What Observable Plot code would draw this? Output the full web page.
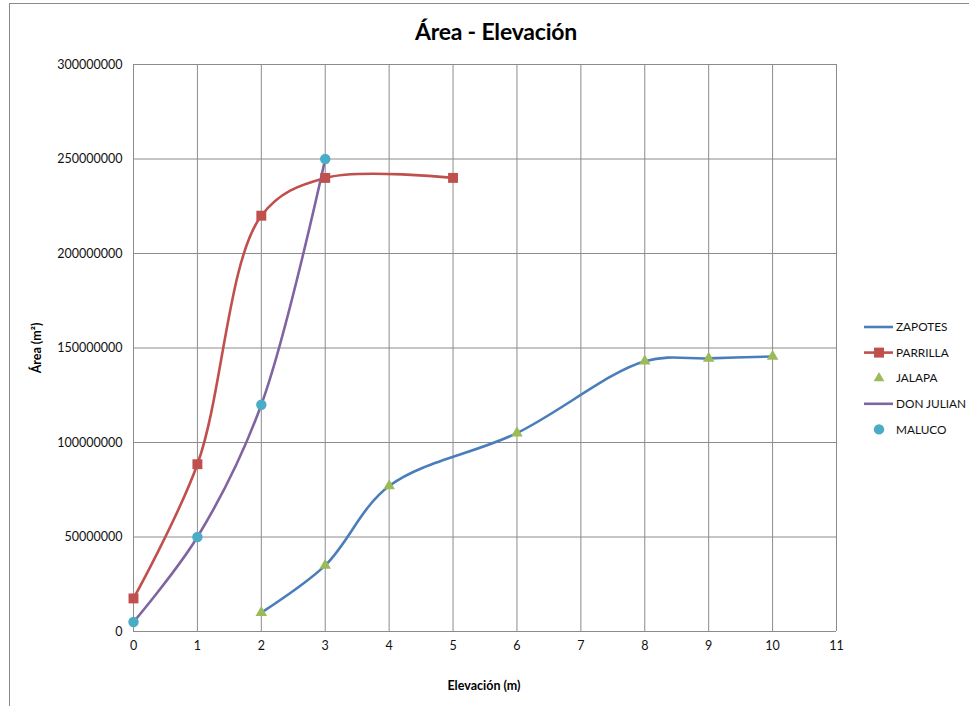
<!DOCTYPE html>
<html>
<head>
<meta charset="utf-8">
<script src="https://cdn.jsdelivr.net/npm/d3@7"></script>
<script src="https://cdn.jsdelivr.net/npm/@observablehq/plot@0.6"></script>
<style>
  html, body { margin: 0; padding: 0; background: #fff; }
  #wrap { position: relative; width: 969px; height: 706px; overflow: hidden; font-family: Lato, "Open Sans", sans-serif; }
  #frame { position: absolute; left: 9px; top: 3px; width: 970px; height: 720px; border: 1px solid #8a8a8a; box-sizing: border-box; }
  #chart { position: absolute; left: 0; top: 0; }
  #title { position: absolute; left: 0; width: 992px; top: 17px; text-align: center; font-weight: bold; font-size: 23px; color: #000; letter-spacing: -0.2px; }
  #ylabel { position: absolute; left: 36px; top: 348px; transform: translate(-50%, -50%) rotate(-90deg); font-weight: bold; font-size: 12.5px; white-space: nowrap; }
  #xlabel { position: absolute; left: 484px; top: 685px; transform: translate(-50%, -50%); font-weight: bold; font-size: 12.5px; white-space: nowrap; }
  #legend { position: absolute; left: 860px; top: 312px; }
</style>
</head>
<body>
<div id="wrap">
  <div id="frame"></div>
  <div id="chart"></div>
  <div id="title">Área - Elevación</div>
  <div id="ylabel">Área (m²)</div>
  <div id="xlabel">Elevación (m)</div>
  <svg id="legend" width="109" height="130"></svg>
</div>
<script>
// ---- Data ----
const seriesNames = ["ZAPOTES", "PARRILLA", "JALAPA", "DON JULIAN", "MALUCO"];
const zapotesX = [2, 3, 4, 6, 8, 9, 10];
const zapotesY = [10e6, 35e6, 77e6, 105e6, 143e6, 144.5e6, 145.5e6];
const parrillaX = [0, 1, 2, 3, 5];
const parrillaY = [17.5e6, 88.5e6, 220e6, 240e6, 240e6];
const jalapaX = [2, 3, 4, 6, 8, 9, 10];
const jalapaY = [10e6, 35e6, 77e6, 105e6, 143e6, 144.5e6, 145.5e6];
const donJulianX = [0, 1, 2, 3];
const donJulianY = [5e6, 50e6, 120e6, 250e6];
const malucoX = [0, 1, 2, 3];
const malucoY = [5e6, 50e6, 120e6, 250e6];
const xTicks = [0, 1, 2, 3, 4, 5, 6, 7, 8, 9, 10, 11];
const yTicks = [0, 50e6, 100e6, 150e6, 200e6, 250e6, 300e6];

const colors = {
  "ZAPOTES": "#4A7EBB",
  "PARRILLA": "#C0504D",
  "JALAPA": "#9BBB59",
  "DON JULIAN": "#8064A2",
  "MALUCO": "#4BACC6"
};

const rows = (xs, ys, name) => xs.map((x, i) => ({ x, y: ys[i], series: name }));
const zapotes = rows(zapotesX, zapotesY, "ZAPOTES");
const parrilla = rows(parrillaX, parrillaY, "PARRILLA");
const jalapa = rows(jalapaX, jalapaY, "JALAPA");
const donJulian = rows(donJulianX, donJulianY, "DON JULIAN");
const maluco = rows(malucoX, malucoY, "MALUCO");

const gridColor = "#8c8c8c";
const curve = "catmull-rom";

const chart = Plot.plot({
  width: 969,
  height: 706,
  marginLeft: 133,
  marginRight: 133,
  marginTop: 64,
  marginBottom: 75,
  style: { fontFamily: "Lato, 'Open Sans', sans-serif", fontSize: "12.5px", color: "#111", background: "transparent" },
  x: { domain: [0, 11], label: null },
  y: { domain: [0, 300e6], label: null },
  marks: [
    Plot.gridX(xTicks, { stroke: gridColor, strokeOpacity: 1, strokeWidth: 1 }),
    Plot.gridY(yTicks, { stroke: gridColor, strokeOpacity: 1, strokeWidth: 1 }),
    Plot.axisX({ ticks: xTicks, tickSize: 0, tickPadding: 10, label: null, fontSize: 12.5 }),
    Plot.axisY({ ticks: yTicks, tickSize: 0, tickPadding: 11, label: null, tickFormat: d3.format("d"), fontSize: 12.5 }),
    Plot.line(zapotes, { x: "x", y: "y", stroke: colors["ZAPOTES"], strokeWidth: 2.6, curve }),
    Plot.line(parrilla, { x: "x", y: "y", stroke: colors["PARRILLA"], strokeWidth: 2.6, curve }),
    Plot.line(donJulian, { x: "x", y: "y", stroke: colors["DON JULIAN"], strokeWidth: 2.6, curve }),
    Plot.dot(parrilla, { x: "x", y: "y", symbol: "square", r: 5.6, fill: colors["PARRILLA"], stroke: "none" }),
    Plot.dot(jalapa, { x: "x", y: "y", symbol: "triangle", r: 4.3, fill: colors["JALAPA"], stroke: "none" }),
    Plot.dot(maluco, { x: "x", y: "y", symbol: "circle", r: 5.2, fill: colors["MALUCO"], stroke: "none" })
  ]
});
document.getElementById("chart").appendChild(chart);

// ---- Legend ----
const legend = d3.select("#legend");
const kinds = { "ZAPOTES": "line", "PARRILLA": "lineSquare", "JALAPA": "triangle", "DON JULIAN": "line", "MALUCO": "circle" };
seriesNames.forEach((name, i) => {
  const g = legend.append("g").attr("transform", `translate(0, ${15 + i * 25.6})`);
  const c = colors[name];
  const k = kinds[name];
  if (k === "line" || k === "lineSquare") {
    g.append("line").attr("x1", 4).attr("x2", 33).attr("y1", 0).attr("y2", 0).attr("stroke", c).attr("stroke-width", 2.6);
  }
  if (k === "lineSquare") {
    g.append("rect").attr("x", 14).attr("y", -5).attr("width", 10).attr("height", 10).attr("fill", c);
  }
  if (k === "triangle") {
    g.append("path").attr("d", d3.symbol(d3.symbolTriangle, 50)()).attr("transform", "translate(19,0)").attr("fill", c);
  }
  if (k === "circle") {
    g.append("circle").attr("cx", 19).attr("cy", 0).attr("r", 5.2).attr("fill", c);
  }
  g.append("text").attr("x", 36).attr("y", 0).attr("dy", "0.35em")
    .attr("font-size", 11.8).attr("font-family", "Lato, 'Open Sans', sans-serif").attr("fill", "#111").text(name);
});
</script>
</body>
</html>
